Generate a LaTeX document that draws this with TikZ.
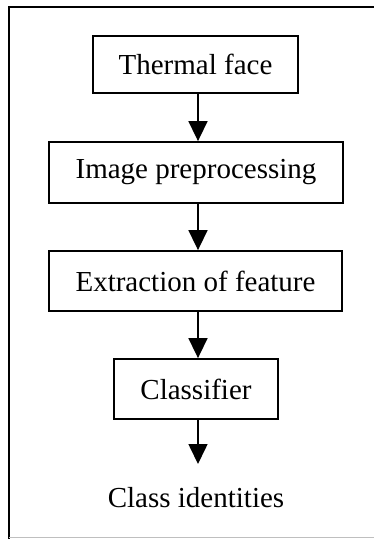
\documentclass[tikz,border=0pt]{standalone}
\usepackage{fontspec}
\setmainfont{Liberation Serif}
\usetikzlibrary{arrows.meta}
\begin{document}
\begin{tikzpicture}[x=1pt,y=-1pt,
  stepbox/.style={draw, line width=1.8pt, rectangle, inner sep=0pt, font=\fontsize{29}{31}\selectfont},
  flow/.style={line width=1.6pt, -{Triangle[length=20pt,width=19pt]}},
  frame/.style={line width=2pt}]
\useasboundingbox (0,0) rectangle (374,539);
\fill[white] (0,0) rectangle (374,539);
\draw[frame] (9,539) -- (9,7) -- (374,7);
\draw[line width=1pt, black!25] (9,537) -- (374,537);
\node[stepbox, minimum width=205pt, minimum height=57pt] (a) at (195.5,64.5) {Thermal face};
\node[stepbox, minimum width=294pt, minimum height=61pt] (b) at (196,172.5) {Image preprocessing};
\node[stepbox, minimum width=293pt, minimum height=60pt] (c) at (195.5,281) {Extraction of feature};
\node[stepbox, minimum width=164pt, minimum height=60pt] (d) at (196,389) {Classifier};
\node[font=\fontsize{29}{31}\selectfont, inner sep=0pt] (e) at (196,498) {Class identities};
\coordinate (eTop) at (198,464);
\draw[flow] (a.south -| 198,0) -- (b.north -| 198,0);
\draw[flow] (b.south -| 198,0) -- (c.north -| 198,0);
\draw[flow] (c.south -| 198,0) -- (d.north -| 198,0);
\draw[flow] (d.south -| 198,0) -- (eTop);
\end{tikzpicture}
\end{document}
